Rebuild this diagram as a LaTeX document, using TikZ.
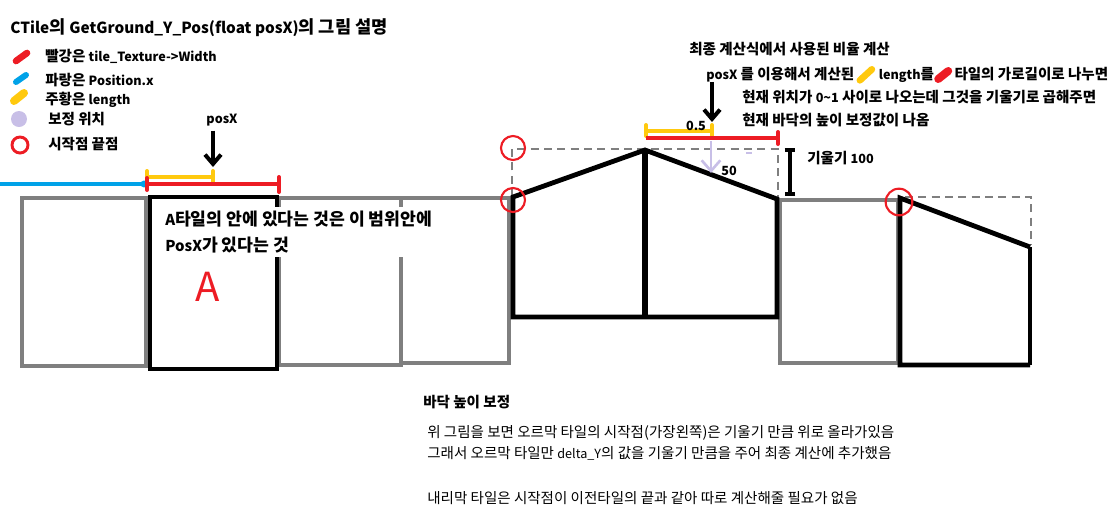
\documentclass[tikz,border=0pt]{standalone}
\usepackage{fontspec}
\setmainfont{Noto Sans CJK KR}
\newfontfamily\enfont{Noto Sans CJK KR}[Scale=0.87]
\newcommand{\en}[1]{{\enfont #1}}
\usetikzlibrary{arrows.meta, positioning}
\definecolor{pred}{HTML}{ED1C24}
\definecolor{pblue}{HTML}{00A2E8}
\definecolor{pyellow}{HTML}{FFC90E}
\definecolor{plav}{HTML}{C8BFE7}
\definecolor{pgray}{HTML}{7F7F7F}
\tikzset{
  graytile/.style={draw=pgray, line width=3.6pt},
  blacktile/.style={draw=black, line width=3.2pt},
  guide/.style={draw=pgray, line width=2.2pt, dash pattern=on 6pt off 4pt},
  ring/.style={draw=pred, line width=1.6pt},
  swash/.style={line width=#1, line cap=round},
  txt/.style={anchor=west, inner sep=0pt, text height=0.8em, text depth=0.2em},
  pointer/.style={-{Straight Barb[length=7pt, width=12pt]}, line width=3pt},
}
\begin{document}
\begin{tikzpicture}[x=0.75pt, y=-0.75pt, font=\bfseries\fontsize{10.9}{13}\selectfont]
\useasboundingbox (0,0) rectangle (1118,526);
% title and legend
\node[txt, font=\bfseries\fontsize{13.2}{16}\selectfont] (title) at (10,29) {\en{CTile}의 \en{GetGround\_Y\_Pos(float posX)}의 그림 설명};
\draw[pred, swash=5pt] (16,61) -- (27,53);
\draw[pblue, swash=4.5pt] (16,82) -- (26,75);
\draw[pyellow, swash=6pt] (14,101) -- (24,93);
\fill[plav] (19,119) circle[radius=6pt];
\draw[ring, line width=2.2pt] (20,145) circle[radius=6pt];
\node[txt] (lgred) at (45,57) {빨강은 \en{tile\_Texture->Width}};
\node[txt] (lgblue) at (45,81) {파랑은 \en{Position.x}};
\node[txt] (lgyel) at (45,100) {주황은 \en{length}};
\node[txt] (lglav) at (48,120) {보정 위치};
\node[txt] (lgring) at (48,145) {시작점 끝점};
% bars over tile A
\coordinate (tipA) at (213,167);
\node (posxA) at (222,120) {\en{posX}};
\draw[pointer] (posxA.south -| tipA) -- (tipA);
\draw[pblue, line width=3pt] (0,184) -- (144,184);
\fill[pblue] (144,184) circle[radius=2.6pt];
\draw[pyellow, line width=3pt] (147,177) -- (213,177);
\draw[pyellow, line width=3pt, line cap=round] (147,171) -- (147,183) (213,171) -- (213,183);
\draw[pred, line width=3pt] (147,184) -- (279,184);
\draw[pred, line width=3pt, line cap=round] (147,178) -- (147,190) (279,177) -- (279,192);
% flat tiles
\draw[graytile] (22,198) rectangle (146,366);
\draw[graytile] (279,198) rectangle (401,365);
\draw[graytile] (401,198) rectangle (509,363);
\draw[graytile] (509,198) -- (514,198);
\draw[graytile] (780,200) rectangle (898,363);
\draw[blacktile] (150,197) rectangle (277,369);
\node[anchor=west, fill=white, inner sep=3pt, align=left, font=\bfseries\fontsize{12.9}{20}\selectfont] (inA) at (161,232) {\en{A}타일의 안에 있다는 것은 이 범위안에\\\en{PosX}가 있다는 것};
\node[pred, font=\mdseries\fontsize{30}{30}\selectfont] (labA) at (208,287) {A};
% uphill tiles
\draw[guide] (512,197) -- (512,149) -- (778,149) -- (778,197);
\draw[blacktile, line width=3.6pt] (645,150) -- (513,197) -- (513,317) -- (777,317) -- (777,199) -- cycle;
\draw[line width=5pt] (645,150) -- (645,317);
\draw[ring] (513,148) circle[radius=9pt];
\draw[ring] (513,200) circle[radius=9pt];
\draw[pyellow, line width=3pt] (646,131) -- (712,131);
\draw[pyellow, line width=3pt, line cap=round] (646,125) -- (646,136) (712,125) -- (712,136);
\draw[pred, line width=3pt] (646,138) -- (778,138);
\draw[pred, line width=3pt, line cap=round] (778,132) -- (778,144);
\node (ratio) at (696,126) {\en{0.5}};
\coordinate (tipB) at (711,173);
\draw[plav, -{Straight Barb[length=8pt, width=14pt]}, line width=2pt] (711,141) -- (tipB);
\draw[plav, line width=2pt] (746,153) -- (752,153);
\node (fifty) at (729,171) {\en{50}};
\coordinate (slopeTop) at (790,148);
\coordinate (slopeBot) at (790,196);
\draw[{Bar[width=8pt]}-{Bar[width=8pt]}, line width=3pt] (slopeTop) -- (slopeBot);
\node[txt] (slope) at (807,159) {기울기 \en{100}};
% explanation at the top right
\node[txt] (rt1) at (689,50) {최종 계산식에서 사용된 비율 계산};
\node[txt] (rt2a) at (706,75) {\en{posX} 를 이용해서 계산된};
\draw[pyellow, swash=5pt] ([xshift=4pt, yshift=-4pt]rt2a.east) -- ++(12,-11);
\node[txt, right=18pt of rt2a] (rt2b) {\en{length}를};
\draw[pred, swash=6pt] ([xshift=3pt, yshift=-3pt]rt2b.east) -- ++(10,-8);
\node[txt, right=15pt of rt2b] (rt2c) {타일의 가로길이로 나누면};
\node[txt] (rt3) at (742,98) {현재 위치가 \en{0\textasciitilde1} 사이로 나오는데 그것을 기울기로 곱해주면};
\node[txt] (rt4) at (742,121) {현재 바닥의 높이 보정값이 나옴};
\coordinate (tipC) at (712,122);
\draw[pointer] (rt2a.south -| tipC) -- (tipC);
% downhill tile
\draw[guide] (905,197) -- (1031,197) -- (1031,245);
\draw[line width=2.4pt] (1030,247) -- (1030,365);
\draw[line width=3.6pt] (1030,247) -- (900,198) -- (900,365) -- (1030,365);
\draw[ring] (899,202) circle[radius=10pt];
% notes at the bottom
\node[txt] (nt0) at (423,403) {바닥 높이 보정};
\begin{scope}[font=\mdseries\fontsize{10.9}{13}\selectfont]
\node[txt] (nt1) at (427,433) {위 그림을 보면 오르막 타일의 시작점(가장왼쪽)은 기울기 만큼 위로 올라가있음};
\node[txt] (nt2) at (427,454) {그래서 오르막 타일만 \en{delta\_Y}의 값을 기울기 만큼을 주어 최종 계산에 추가했음};
\node[txt] (nt3) at (427,499) {내리막 타일은 시작점이 이전타일의 끝과 같아 따로 계산해줄 필요가 없음};
\end{scope}
\end{tikzpicture}
\end{document}
